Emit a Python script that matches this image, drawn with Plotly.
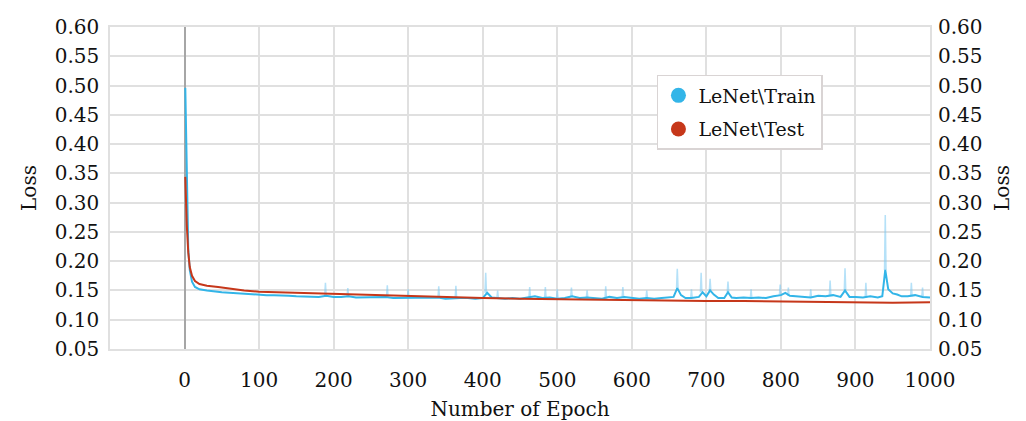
import plotly.graph_objects as go

# ---------------- data ----------------
test_epochs = [1, 2, 3, 5, 7, 10, 14, 20, 30, 45, 60, 80, 100, 150, 200, 250, 300, 350,
               400, 450, 500, 550, 600, 650, 700, 750, 800, 850, 900, 950, 1000]
test_loss = [0.344, 0.300, 0.262, 0.215, 0.190, 0.175, 0.166, 0.161, 0.158, 0.156, 0.153,
             0.150, 0.148, 0.146, 0.144, 0.142, 0.140, 0.139, 0.137, 0.136, 0.135, 0.134,
             0.133, 0.133, 0.132, 0.132, 0.131, 0.131, 0.130, 0.129, 0.130]

train_epochs = [1, 2, 3, 4, 5, 7, 10, 14, 20, 30, 40, 50, 60, 70, 80, 90, 100, 110, 120, 130,
                140, 150, 160, 170, 180, 190, 200, 210, 220, 230, 240, 250, 260, 270, 280, 290,
                300, 310, 320, 330, 340, 350, 360, 370, 380, 390, 400, 406, 412, 420, 430, 440,
                450, 460, 470, 480, 490, 500, 510, 520, 530, 540, 550, 560, 570, 580, 590, 600,
                610, 620, 630, 640, 650, 656, 661, 666, 672, 680, 690, 695, 700, 705, 710, 716,
                724, 729, 734, 740, 750, 760, 770, 780, 790, 800, 806, 812, 820, 830, 840, 850,
                860, 870, 880, 886, 892, 900, 910, 920, 930, 936, 940, 944, 950, 956, 962, 970,
                980, 990, 1000]
train_loss = [0.496, 0.420, 0.340, 0.270, 0.220, 0.185, 0.165, 0.156, 0.152, 0.150, 0.148,
              0.147, 0.146, 0.145, 0.144, 0.144, 0.143, 0.142, 0.142, 0.142, 0.141, 0.140,
              0.140, 0.140, 0.139, 0.141, 0.139, 0.139, 0.140, 0.138, 0.138, 0.138, 0.138,
              0.139, 0.137, 0.137, 0.138, 0.137, 0.137, 0.137, 0.138, 0.136, 0.137, 0.137,
              0.137, 0.136, 0.137, 0.146, 0.138, 0.137, 0.136, 0.137, 0.136, 0.138, 0.140,
              0.137, 0.138, 0.136, 0.137, 0.140, 0.137, 0.138, 0.137, 0.136, 0.139, 0.137,
              0.139, 0.137, 0.136, 0.137, 0.136, 0.137, 0.138, 0.139, 0.154, 0.142, 0.137,
              0.137, 0.139, 0.147, 0.140, 0.150, 0.143, 0.137, 0.137, 0.147, 0.138, 0.137,
              0.138, 0.137, 0.138, 0.137, 0.140, 0.142, 0.146, 0.141, 0.140, 0.139, 0.138,
              0.141, 0.140, 0.142, 0.139, 0.150, 0.139, 0.139, 0.138, 0.140, 0.138, 0.140,
              0.185, 0.152, 0.145, 0.143, 0.140, 0.140, 0.142, 0.139, 0.138]

spike_epochs = [189, 219, 272, 300, 341, 364, 404, 420, 463, 484, 500, 519, 540, 565, 588,
                620, 661, 680, 693, 705, 729, 760, 799, 810, 840, 866, 886, 914, 940, 975, 990]
spike_peaks = [0.163, 0.154, 0.159, 0.152, 0.157, 0.158, 0.180, 0.150, 0.156, 0.156, 0.152,
               0.155, 0.150, 0.157, 0.156, 0.150, 0.187, 0.152, 0.180, 0.170, 0.165, 0.152,
               0.160, 0.155, 0.152, 0.167, 0.188, 0.163, 0.279, 0.163, 0.155]

x_ticks = [0, 100, 200, 300, 400, 500, 600, 700, 800, 900, 1000]
y_ticks = [0.05, 0.10, 0.15, 0.20, 0.25, 0.30, 0.35, 0.40, 0.45, 0.50, 0.55, 0.60]
y_labels = ["%.2f" % v for v in y_ticks]

BLUE = "#33b5e8"
RED = "#c6371a"
FONT = "DejaVu Serif"


def nearest_base(e):
    i = min(range(len(train_epochs)), key=lambda k: abs(train_epochs[k] - e))
    return train_loss[i]


# faint raw spikes built from the spike arrays
raw_x, raw_y = [], []
for e, p in zip(spike_epochs, spike_peaks):
    b = nearest_base(e)
    raw_x += [e - 1, e, e + 1, None]
    raw_y += [b, p, b, None]

fig = go.Figure()
fig.add_trace(go.Scatter(x=raw_x, y=raw_y, mode="lines",
                         line=dict(color="rgba(120,200,242,0.55)", width=1.5),
                         showlegend=False, hoverinfo="skip"))
fig.add_trace(go.Scatter(x=train_epochs, y=train_loss, mode="lines",
                         line=dict(color=BLUE, width=2), showlegend=False))
fig.add_trace(go.Scatter(x=test_epochs, y=test_loss, mode="lines",
                         line=dict(color=RED, width=2), showlegend=False))
# legend entries (circle markers)
fig.add_trace(go.Scatter(x=[None], y=[None], mode="markers", name="LeNet\\Train",
                         legendgroup="a",
                         marker=dict(color=BLUE, size=15), yaxis="y2"))
fig.add_trace(go.Scatter(x=[None], y=[None], mode="markers", name="LeNet\\Test",
                         legendgroup="b",
                         marker=dict(color=RED, size=15), yaxis="y2"))

axis_common = dict(range=[0.05, 0.60], tickvals=y_ticks, ticktext=y_labels,
                   tickfont=dict(family=FONT, size=20, color="#111"), automargin=False)

fig.update_layout(
    width=1026, height=421,
    margin=dict(l=110, r=96, t=27, b=72),
    paper_bgcolor="white", plot_bgcolor="white",
    font=dict(family=FONT, color="#111"),
    xaxis=dict(range=[-100, 1000], tickvals=x_ticks, automargin=False,
               tickfont=dict(family=FONT, size=20, color="#111"),
               showgrid=True, gridcolor="#e0e0e0", gridwidth=1.5,
               zeroline=True, zerolinecolor="#a6a6a6", zerolinewidth=2,
               showline=True, linecolor="#e0e0e0", linewidth=1.5, mirror=True,
               ticks="outside", ticklen=12, tickcolor="rgba(0,0,0,0)",
               title=dict(text="Number of Epoch", font=dict(family=FONT, size=20),
                          standoff=11)),
    yaxis=dict(**axis_common, showgrid=True, gridcolor="#e0e0e0", gridwidth=1.5,
               zeroline=False, showline=True, linecolor="#e0e0e0", linewidth=1.5,
               mirror=True, ticks="outside", ticklen=5, tickcolor="rgba(0,0,0,0)",
               title=dict(text="Loss", font=dict(family=FONT, size=20), standoff=13)),
    yaxis2=dict(**axis_common, overlaying="y", side="right", showgrid=False,
                zeroline=False, ticks="outside", ticklen=3, tickcolor="rgba(0,0,0,0)",
                title=dict(text="Loss", font=dict(family=FONT, size=20), standoff=13)),
    legend=dict(x=0.667, y=0.851, xanchor="left", yanchor="top",
                bgcolor="white", bordercolor="#d9d4d4", borderwidth=1.5,
                font=dict(family=FONT, size=19, color="#111"),
                itemwidth=30, tracegroupgap=6),
    shapes=[dict(type="line", xref="paper", x0=0, x1=1, yref="y", y0=0.10, y1=0.10,
                 line=dict(color="#a6a6a6", width=1.5), layer="below")],
)

fig.write_html("out.html")
